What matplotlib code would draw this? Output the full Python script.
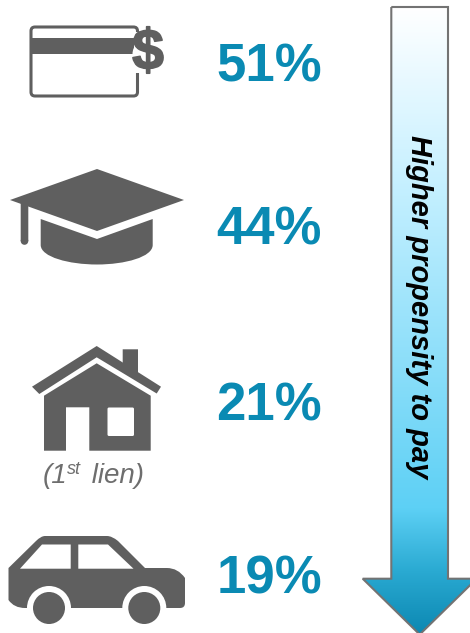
import numpy as np
import matplotlib
matplotlib.use("Agg")
import matplotlib.pyplot as plt
import matplotlib.patheffects as pe
from matplotlib.colors import LinearSegmentedColormap
from matplotlib.patches import Circle, FancyBboxPatch, PathPatch, Polygon, Rectangle
from matplotlib.path import Path

plt.rcParams['font.family'] = ['Liberation Sans', 'DejaVu Sans']

# Chart data
percent_values = [51, 44, 21, 19]
percent_centers = [62, 225, 401, 574]
arrow_label = "Higher propensity to pay"
lien_label = "(1"
lien_super = "st"
lien_tail = " lien)"

# Colours
icon_grey = "#5f5f5f"
text_blue = "#0a8ab3"
arrow_stops = [(0.0, "#ffffff"), (0.3, "#c2efff"), (0.8, "#5dd0f5"),
               (0.9, "#2aaad2"), (1.0, "#0c88b2")]

fig = plt.figure(figsize=(4.7, 6.33), dpi=100)
ax = fig.add_axes([0, 0, 1, 1])
ax.set_xlim(0, 470)
ax.set_ylim(633, 0)
ax.axis("off")


def draw_card():
    ax.add_patch(FancyBboxPatch((31, 27), 106.5, 69, boxstyle="round,pad=0,rounding_size=4",
                                fc="white", ec=icon_grey, lw=2.2))
    # white halo cuts the card edge around the dollar sign
    ax.add_patch(Rectangle((130, 32), 30, 41, fc="white", ec="none"))
    ax.add_patch(Rectangle((30, 38), 104, 16, fc=icon_grey, ec="none"))
    ax.add_patch(Circle((147, 54), 14.5, fc="white", ec="none"))
    ax.text(148, 54, "$", fontsize=41, fontweight="bold", color=icon_grey, ha="center", va="center",
            path_effects=[pe.withStroke(linewidth=1.2, foreground=icon_grey)])


def draw_cap():
    ax.add_patch(Polygon([(10, 200), (97, 169), (184, 200), (97, 231)], fc=icon_grey, ec="none"))
    ax.add_patch(Polygon([(20.7, 202), (28.3, 205), (28.3, 241), (20.7, 241)], fc=icon_grey, ec="none"))
    ax.add_patch(Circle((24.5, 241), 3.8, fc=icon_grey, ec="none"))
    verts = [(40.7, 219), (97, 239), (152.7, 219), (152.7, 245),
             (152.7, 257), (125, 264.5), (97, 264.5),
             (69, 264.5), (40.7, 257), (40.7, 245), (40.7, 219)]
    codes = [Path.MOVETO, Path.LINETO, Path.LINETO, Path.LINETO,
             Path.CURVE4, Path.CURVE4, Path.CURVE4,
             Path.CURVE4, Path.CURVE4, Path.CURVE4, Path.CLOSEPOLY]
    ax.add_patch(PathPatch(Path(verts, codes), fc=icon_grey, ec="none"))


def draw_house():
    ax.add_patch(Polygon([(122.7, 349.3), (138, 349.3), (138, 374), (122.7, 364)], fc=icon_grey, ec="none"))
    ax.add_patch(Polygon([(96.7, 346), (161, 386.7), (156.7, 393.5), (96.7, 357.3),
                          (39.3, 394), (32, 386.7)], fc=icon_grey, ec="none"))
    ax.add_patch(Polygon([(44, 395.7), (96.7, 363.3), (150.7, 395.7), (150.7, 450.7),
                          (89.3, 450.7), (89.3, 407.3), (66, 407.3), (66, 450.7),
                          (44, 450.7)], fc=icon_grey, ec="none"))
    ax.add_patch(FancyBboxPatch((107.5, 407.5), 26.5, 28.5, boxstyle="round,pad=0,rounding_size=1.5",
                                fc="white", ec="none"))
    ax.text(43, 483, lien_label, fontsize=20, style="italic", color="#6e6e6e", va="baseline")
    ax.text(67, 474, lien_super, fontsize=13, style="italic", color="#6e6e6e", va="baseline")
    ax.text(84, 483, lien_tail, fontsize=20, style="italic", color="#6e6e6e", va="baseline")


def draw_car():
    verts = [(25, 608), (14, 608), (8.5, 600), (8.5, 593), (8.5, 568),
             (36, 541), (41, 536), (45, 536), (107, 536), (112, 536), (118, 541),
             (145, 568), (167, 568), (178, 568), (185, 578), (185, 588), (185, 603),
             (185, 608), (180, 608), (25, 608), (25, 608)]
    codes = [Path.MOVETO, Path.CURVE3, Path.CURVE3, Path.LINETO, Path.LINETO,
             Path.LINETO, Path.CURVE3, Path.CURVE3, Path.LINETO, Path.CURVE3, Path.CURVE3,
             Path.LINETO, Path.LINETO, Path.CURVE3, Path.CURVE3, Path.LINETO, Path.LINETO,
             Path.CURVE3, Path.CURVE3, Path.LINETO, Path.CLOSEPOLY]
    ax.add_patch(PathPatch(Path(verts, codes), fc=icon_grey, ec="none"))
    ax.add_patch(Polygon([(20, 568.7), (42, 544.5), (70.7, 544.5), (70.7, 568.7)], fc="white", ec="none"))
    ax.add_patch(Polygon([(78.3, 568.7), (78.3, 544.5), (108, 544.5), (133.5, 568.7)], fc="white", ec="none"))
    for cx in [49, 144.3]:
        ax.add_patch(Circle((cx, 608), 22, fc="white", ec="none"))
        ax.add_patch(Circle((cx, 608), 16, fc=icon_grey, ec="none"))


def draw_arrow():
    outline = [(391.3, 7), (448, 7), (448, 578.7), (476.7, 578.7), (419.7, 634.5),
               (362.7, 578.7), (391.3, 578.7)]
    cmap = LinearSegmentedColormap.from_list("arrow", arrow_stops)
    grad = np.linspace(0, 1, 256).reshape(-1, 1)
    im = ax.imshow(grad, cmap=cmap, extent=(362, 478, 634.5, 7), aspect="auto", zorder=1)
    patch = Polygon(outline, closed=True, fc="none", ec="#737373", lw=1.5, zorder=2, joinstyle="miter")
    ax.add_patch(patch)
    im.set_clip_path(patch)
    ax.set_xlim(0, 470)
    ax.set_ylim(633, 0)
    ax.text(419, 307, arrow_label, rotation=-90, fontsize=21, fontweight="bold", style="italic",
            color="black", ha="center", va="center", zorder=3)


draw_card()
draw_cap()
draw_house()
draw_car()
draw_arrow()

for value, center in zip(percent_values, percent_centers):
    ax.text(269, center, f"{value}%", fontsize=38, fontweight="bold", color=text_blue,
            ha="center", va="center_baseline")

fig.savefig("out.png", dpi=100)
